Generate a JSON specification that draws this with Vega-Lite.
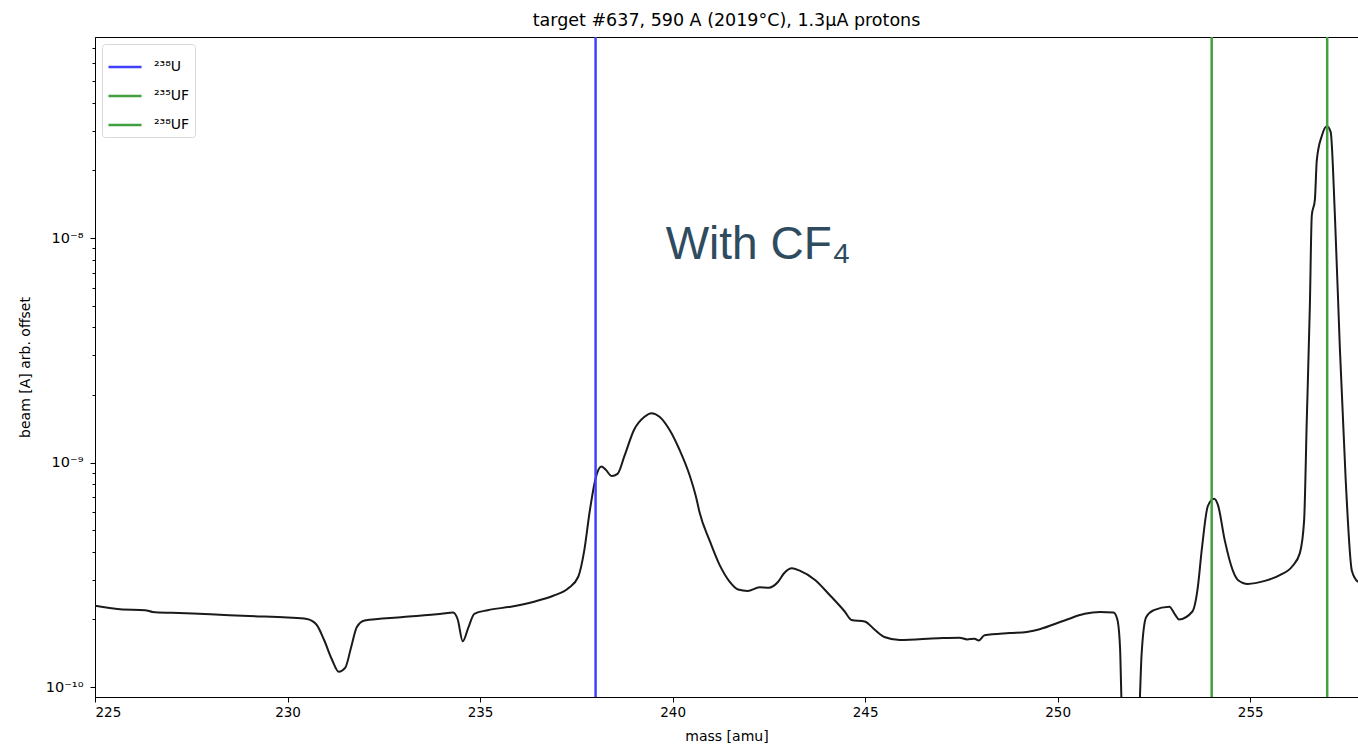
{
  "$schema": "https://vega.github.io/schema/vega-lite/v6.json",
  "width": 1263,
  "height": 660,
  "autosize": {"type": "none"},
  "padding": {"left": 95, "top": 37, "right": 0, "bottom": 49},
  "background": "white",
  "config": {
    "font": "DejaVu Sans",
    "view": {"stroke": "black", "strokeWidth": 1},
    "axis": {"grid": false, "domainColor": "black", "tickColor": "black", "labelColor": "black", "titleColor": "black", "labelFontSize": 13.5, "titleFontSize": 14, "titleFontWeight": "normal", "labelFont": "DejaVu Sans", "titleFont": "DejaVu Sans"}
  },
  "title": {"text": "target #637, 590 A (2019°C), 1.3μA protons", "fontSize": 17.5, "fontWeight": "normal", "font": "DejaVu Sans", "color": "black", "offset": 6},
  "datasets": {
    "scan": [
      {"mass": 225.0, "beam": 2.30e-10},
      {"mass": 225.65, "beam": 2.22e-10},
      {"mass": 226.3, "beam": 2.20e-10},
      {"mass": 226.5, "beam": 2.16e-10},
      {"mass": 227.0, "beam": 2.14e-10},
      {"mass": 228.0, "beam": 2.11e-10},
      {"mass": 229.0, "beam": 2.07e-10},
      {"mass": 230.0, "beam": 2.04e-10},
      {"mass": 230.5, "beam": 2.01e-10},
      {"mass": 230.75, "beam": 1.90e-10},
      {"mass": 230.95, "beam": 1.62e-10},
      {"mass": 231.15, "beam": 1.33e-10},
      {"mass": 231.33, "beam": 1.17e-10},
      {"mass": 231.5, "beam": 1.22e-10},
      {"mass": 231.65, "beam": 1.50e-10},
      {"mass": 231.8, "beam": 1.85e-10},
      {"mass": 232.0, "beam": 1.98e-10},
      {"mass": 233.0, "beam": 2.05e-10},
      {"mass": 234.0, "beam": 2.12e-10},
      {"mass": 234.3, "beam": 2.15e-10},
      {"mass": 234.42, "beam": 2.0e-10},
      {"mass": 234.55, "beam": 1.60e-10},
      {"mass": 234.7, "beam": 1.85e-10},
      {"mass": 234.85, "beam": 2.12e-10},
      {"mass": 235.2, "beam": 2.20e-10},
      {"mass": 235.8, "beam": 2.28e-10},
      {"mass": 236.4, "beam": 2.40e-10},
      {"mass": 236.9, "beam": 2.55e-10},
      {"mass": 237.3, "beam": 2.76e-10},
      {"mass": 237.55, "beam": 3.10e-10},
      {"mass": 237.7, "beam": 4.0e-10},
      {"mass": 237.85, "beam": 6.1e-10},
      {"mass": 238.0, "beam": 8.5e-10},
      {"mass": 238.15, "beam": 9.6e-10},
      {"mass": 238.26, "beam": 9.3e-10},
      {"mass": 238.42, "beam": 8.7e-10},
      {"mass": 238.57, "beam": 8.9e-10},
      {"mass": 238.75, "beam": 1.07e-9},
      {"mass": 239.0, "beam": 1.40e-9},
      {"mass": 239.27, "beam": 1.60e-9},
      {"mass": 239.45, "beam": 1.66e-9},
      {"mass": 239.66, "beam": 1.60e-9},
      {"mass": 239.92, "beam": 1.40e-9},
      {"mass": 240.18, "beam": 1.14e-9},
      {"mass": 240.44, "beam": 8.8e-10},
      {"mass": 240.62, "beam": 6.9e-10},
      {"mass": 240.7, "beam": 6.0e-10},
      {"mass": 240.96, "beam": 4.5e-10},
      {"mass": 241.22, "beam": 3.5e-10},
      {"mass": 241.48, "beam": 2.95e-10},
      {"mass": 241.7, "beam": 2.72e-10},
      {"mass": 241.95, "beam": 2.68e-10},
      {"mass": 242.26, "beam": 2.78e-10},
      {"mass": 242.5, "beam": 2.77e-10},
      {"mass": 242.73, "beam": 2.93e-10},
      {"mass": 242.9, "beam": 3.22e-10},
      {"mass": 243.1, "beam": 3.38e-10},
      {"mass": 243.3, "beam": 3.30e-10},
      {"mass": 243.7, "beam": 3.0e-10},
      {"mass": 244.08, "beam": 2.57e-10},
      {"mass": 244.47, "beam": 2.17e-10},
      {"mass": 244.65, "beam": 1.99e-10},
      {"mass": 244.99, "beam": 1.96e-10},
      {"mass": 245.25, "beam": 1.80e-10},
      {"mass": 245.5, "beam": 1.67e-10},
      {"mass": 245.9, "beam": 1.62e-10},
      {"mass": 246.9, "beam": 1.65e-10},
      {"mass": 247.45, "beam": 1.66e-10},
      {"mass": 247.65, "beam": 1.63e-10},
      {"mass": 247.84, "beam": 1.64e-10},
      {"mass": 247.95, "beam": 1.61e-10},
      {"mass": 248.1, "beam": 1.70e-10},
      {"mass": 248.75, "beam": 1.74e-10},
      {"mass": 249.2, "beam": 1.76e-10},
      {"mass": 249.53, "beam": 1.81e-10},
      {"mass": 250.18, "beam": 1.98e-10},
      {"mass": 250.7, "beam": 2.12e-10},
      {"mass": 251.1, "beam": 2.16e-10},
      {"mass": 251.45, "beam": 2.15e-10},
      {"mass": 251.55, "beam": 2.0e-10},
      {"mass": 251.62, "beam": 1.5e-10},
      {"mass": 251.68, "beam": 7e-11},
      {"mass": 252.1, "beam": 7e-11},
      {"mass": 252.18, "beam": 1.4e-10},
      {"mass": 252.3, "beam": 2.05e-10},
      {"mass": 252.5, "beam": 2.2e-10},
      {"mass": 252.9, "beam": 2.28e-10},
      {"mass": 253.05, "beam": 2.1e-10},
      {"mass": 253.15, "beam": 2.0e-10},
      {"mass": 253.5, "beam": 2.17e-10},
      {"mass": 253.63, "beam": 2.7e-10},
      {"mass": 253.75, "beam": 4.2e-10},
      {"mass": 253.9, "beam": 6.4e-10},
      {"mass": 254.06, "beam": 6.9e-10},
      {"mass": 254.16, "beam": 6.5e-10},
      {"mass": 254.34, "beam": 4.5e-10},
      {"mass": 254.55, "beam": 3.3e-10},
      {"mass": 254.68, "beam": 3.0e-10},
      {"mass": 254.94, "beam": 2.88e-10},
      {"mass": 255.38, "beam": 2.97e-10},
      {"mass": 255.77, "beam": 3.15e-10},
      {"mass": 256.1, "beam": 3.46e-10},
      {"mass": 256.29, "beam": 3.95e-10},
      {"mass": 256.4, "beam": 5.5e-10},
      {"mass": 256.47, "beam": 1.55e-9},
      {"mass": 256.55, "beam": 5.0e-9},
      {"mass": 256.6, "beam": 1.26e-8},
      {"mass": 256.68, "beam": 1.48e-8},
      {"mass": 256.73, "beam": 2.22e-8},
      {"mass": 256.86, "beam": 2.85e-8},
      {"mass": 256.99, "beam": 3.15e-8},
      {"mass": 257.09, "beam": 2.97e-8},
      {"mass": 257.2, "beam": 1.26e-8},
      {"mass": 257.33, "beam": 3.2e-9},
      {"mass": 257.48, "beam": 8.4e-10},
      {"mass": 257.64, "beam": 3.3e-10},
      {"mass": 257.8, "beam": 2.94e-10}
    ],
    "lines": [
      {"iso": "²³⁸U", "mass": 238},
      {"iso": "²³⁵UF", "mass": 254},
      {"iso": "²³⁸UF", "mass": 257}
    ],
    "note": [
      {"label": "With CF₄", "mass": 242.22, "beam": 9.3e-9}
    ]
  },
  "layer": [
    {
      "data": {"name": "scan"},
      "mark": {"type": "line", "color": "#1a1a1a", "strokeWidth": 2, "interpolate": "monotone", "clip": true},
      "encoding": {
        "x": {"field": "mass", "type": "quantitative",
          "scale": {"domain": [225, 257.8], "nice": false, "zero": false},
          "axis": {"values": [225, 230, 235, 240, 245, 250, 255], "title": "mass [amu]", "tickSize": 5, "labelPadding": 3, "titlePadding": 11}},
        "y": {"field": "beam", "type": "quantitative",
          "scale": {"type": "log", "domain": [9.03e-11, 7.86e-8], "nice": false},
          "axis": {
            "title": "beam [A] arb. offset",
            "titlePadding": 13,
            "labelFontSize": 14.5,
            "values": [1e-10, 2e-10, 3e-10, 4e-10, 5e-10, 6e-10, 7e-10, 8e-10, 9e-10, 1e-9, 2e-9, 3e-9, 4e-9, 5e-9, 6e-9, 7e-9, 8e-9, 9e-9, 1e-8, 2e-8, 3e-8, 4e-8, 5e-8, 6e-8, 7e-8],
            "labelExpr": "abs(datum.value/1e-10-1)<0.01 ? '10⁻¹⁰' : abs(datum.value/1e-9-1)<0.01 ? '10⁻⁹' : abs(datum.value/1e-8-1)<0.01 ? '10⁻⁸' : ''",
            "tickSize": {"condition": {"test": "abs(log(datum.value)/LN10 - round(log(datum.value)/LN10)) < 0.01", "value": 5}, "value": 3},
            "labelPadding": 7
          }}
      }
    },
    {
      "data": {"name": "lines"},
      "mark": {"type": "rule", "strokeWidth": 2.5},
      "encoding": {
        "x": {"field": "mass", "type": "quantitative"},
        "color": {"field": "iso", "type": "nominal",
          "scale": {"domain": ["²³⁸U", "²³⁵UF", "²³⁸UF"], "range": ["#4040ff", "#40a040", "#40a040"]},
          "legend": {"title": null, "orient": "top-left", "offset": 7, "symbolType": "stroke", "symbolSize": 1089, "symbolStrokeWidth": 2.5, "labelFontSize": 14, "labelFont": "DejaVu Sans", "labelColor": "black", "strokeColor": "#d8d8d8", "fillColor": "white", "cornerRadius": 3, "padding": 5, "rowPadding": 4, "labelOffset": 11}
        }
      }
    },
    {
      "data": {"name": "note"},
      "mark": {"type": "text", "font": "Liberation Sans", "fontSize": 46, "color": "#2f4c5f", "align": "center", "baseline": "middle"},
      "encoding": {
        "x": {"field": "mass", "type": "quantitative"},
        "y": {"field": "beam", "type": "quantitative"},
        "text": {"field": "label"}
      }
    }
  ]
}
